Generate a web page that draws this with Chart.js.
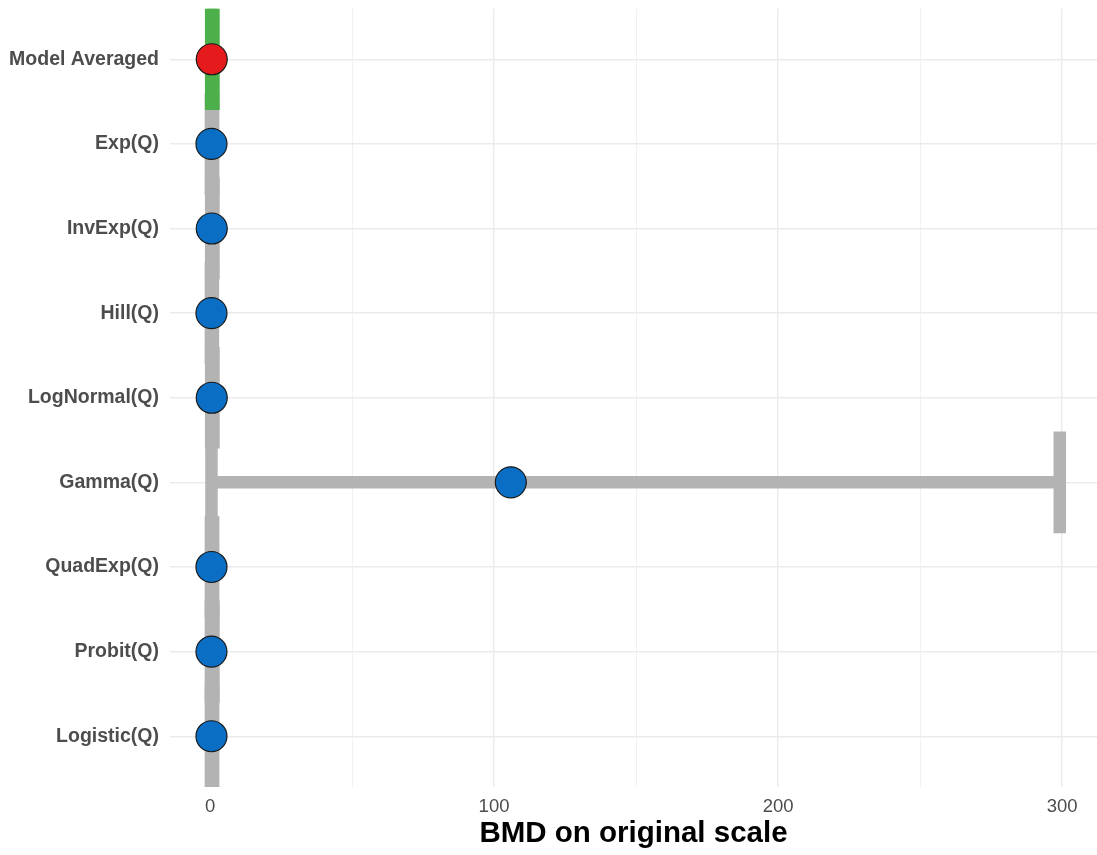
<!DOCTYPE html>
<html>
<head>
<meta charset="utf-8">
<title>BMD on original scale</title>
<script src="https://cdn.jsdelivr.net/npm/chart.js@4/dist/chart.umd.min.js"></script>
<style>
  html, body { margin: 0; padding: 0; background: #ffffff; }
  #wrap { width: 1097px; height: 855px; }
</style>
</head>
<body>
<div id="wrap"><canvas id="c" width="1097" height="855"></canvas></div>
<script>
// Models, top to bottom
const models = ["Model Averaged", "Exp(Q)", "InvExp(Q)", "Hill(Q)", "LogNormal(Q)",
                "Gamma(Q)", "QuadExp(Q)", "Probit(Q)", "Logistic(Q)"];
// Benchmark dose estimate and its lower / upper bounds
const bmd   = [0.6, 0.5, 0.6, 0.5, 0.6, 105.9, 0.5, 0.5, 0.5];
const lower = [0.4, 0.3, 0.4, 0.3, 0.4, 0.5,   0.3, 0.3, 0.3];
const upper = [1.2, 1.1, 1.2, 1.0, 1.2, 299.2, 1.1, 1.2, 1.1];
// X axis ticks
const xMajorTicks = [0, 100, 200, 300];
const xMinorTicks = [50, 150, 250];

const FONT = "'Liberation Sans', Arial, Helvetica, sans-serif";
const GREY = "#b3b3b3", GREEN = "#4daf4a", BLUE = "#0a6fc4", RED = "#e41a1c";
const CAP_HALF = 0.6;   // half height of the error-bar caps, in category units

// one straight segment; lower "order" values are drawn on top
function seg(points, color, order) {
  return {
    type: "line", data: points, borderColor: color, borderWidth: 12.5,
    borderCapStyle: "butt", pointRadius: 0, fill: false, tension: 0, order
  };
}

const datasets = [];
models.forEach((_, i) => {
  const col = i === 0 ? GREEN : GREY;
  const ord = i === 0 ? 1 : 2;
  datasets.push(seg([{x: lower[i], y: i}, {x: upper[i], y: i}], col, ord));
  datasets.push(seg([{x: lower[i], y: i - CAP_HALF}, {x: lower[i], y: i + CAP_HALF}], col, ord));
  datasets.push(seg([{x: upper[i], y: i - CAP_HALF}, {x: upper[i], y: i + CAP_HALF}], col, ord));
});
// point estimates, on top of the intervals
datasets.push({
  type: "scatter",
  order: 0,
  data: models.map((_, i) => ({x: bmd[i], y: i})),
  pointRadius: 15.5,
  pointBorderWidth: 1.2,
  pointBorderColor: "#1a1a1a",
  pointBackgroundColor: models.map((_, i) => i === 0 ? RED : BLUE)
});

new Chart(document.getElementById("c"), {
  type: "scatter",
  data: { datasets },
  options: {
    responsive: false,
    animation: false,
    events: [],
    layout: { autoPadding: false, padding: { top: 8.5, right: 0, left: 0, bottom: 0 } },
    plugins: { legend: { display: false }, tooltip: { enabled: false } },
    scales: {
      x: {
        type: "linear",
        min: -14.1, max: 312.3,
        afterBuildTicks: s => {
          s.ticks = xMajorTicks.concat(xMinorTicks).sort((a, b) => a - b).map(v => ({value: v}));
        },
        afterFit: s => { s.height = 68; s.paddingLeft = 0; s.paddingRight = 0; },
        border: { display: false },
        grid: {
          color: "#ebebeb",
          drawTicks: false,
          lineWidth: ctx => (ctx.tick && xMajorTicks.includes(ctx.tick.value)) ? 1.4 : 0.7
        },
        ticks: {
          autoSkip: false, maxRotation: 0, padding: 9,
          color: "#4d4d4d",
          font: { family: FONT, size: 18.5 },
          callback: v => xMajorTicks.includes(v) ? String(v) : ""
        },
        title: {
          display: true, text: "BMD on original scale", color: "#000000",
          font: { family: FONT, size: 29.5, weight: "bold" },
          padding: { top: 0, bottom: 3 }
        }
      },
      y: {
        type: "linear",
        reverse: true,
        min: -CAP_HALF, max: models.length - 1 + CAP_HALF,
        afterBuildTicks: s => { s.ticks = models.map((_, i) => ({value: i})); },
        afterFit: s => { s.width = 170; s.paddingTop = 0; s.paddingBottom = 0; },
        border: { display: false },
        grid: { color: "#ebebeb", lineWidth: 1.4, drawTicks: false },
        ticks: {
          autoSkip: false, padding: 11,
          color: "#4d4d4d",
          font: { family: FONT, size: 19.5, weight: "bold" },
          callback: v => models[v] ?? ""
        }
      }
    }
  }
});
</script>
</body>
</html>
